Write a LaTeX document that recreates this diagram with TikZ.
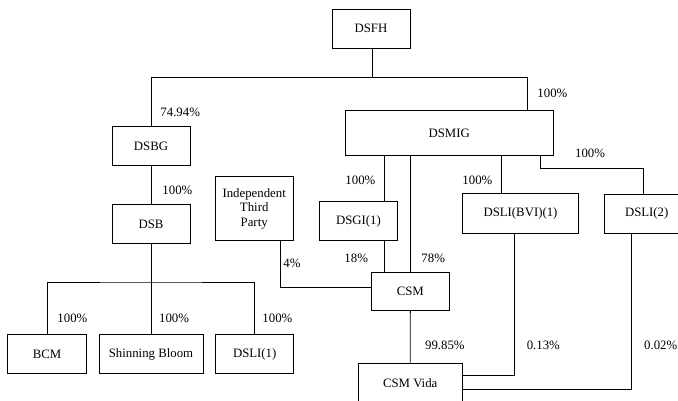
\documentclass[tikz,border=0pt]{standalone}
\usepackage{fontspec}
\setmainfont{Liberation Serif}
\begin{document}
\begin{tikzpicture}[x=1pt,y=-1pt,line width=0.9pt,
  box/.style={draw,inner sep=0pt,align=center,font=\fontsize{12.8}{14.5}\selectfont,minimum height=39pt},
  pct/.style={inner sep=0pt,anchor=west,font=\fontsize{12.8}{14.5}\selectfont}]
\useasboundingbox (0,0) rectangle (678,400);
\clip (0,0) rectangle (678,400);
% boxes
\node[box,minimum width=78pt] (dsfh) at (371,28.5) {DSFH};
\node[box,minimum width=78pt] (dsbg) at (151,146) {DSBG};
\node[box,minimum width=78pt] (dsb) at (151,224) {DSB};
\node[box,minimum width=78pt,minimum height=64pt] (itp) at (254.2,208.5) {Independent\\Third\\Party};
\node[box,minimum width=78.6pt] (bcm) at (47,354) {BCM};
\node[box,minimum width=104pt] (sb) at (151,354) {Shinning Bloom};
\node[box,minimum width=78pt] (dsli1) at (254.7,354) {DSLI(1)};
\node[box,minimum width=207.7pt,minimum height=44.3pt] (dsmig) at (449.2,133) {DSMIG};
\node[box,minimum width=78.4pt] (dsgi) at (358.5,221) {DSGI(1)};
\node[box,minimum width=116.4pt,minimum height=39.8pt] (bvi) at (520.5,213.5) {DSLI(BVI)(1)};
\node[box,minimum width=84.5pt] (dsli2) at (646.7,213.5) {DSLI(2)};
\node[box,minimum width=78pt,minimum height=38.7pt] (csm) at (410.3,291.3) {CSM};
\node[box,minimum width=104.5pt,minimum height=39.7pt] (vida) at (410.2,382.8) {CSM Vida};
% junction coordinates
\coordinate (topbar) at (372,77.3);
\coordinate (dsbbar) at (151,282);
% connectors
\draw (dsfh.south -| topbar) -- (topbar);
\draw (dsbg.north) |- (topbar) -| (dsmig.north -| 527.3,0);
\draw (dsbg.south) -- (dsb.north);
\draw (dsb.south) -- (dsbbar);
\draw (bcm.north) |- (dsbbar) -| (dsli1.north);
\draw (sb.north) -- (dsbbar);
\draw (itp.south -| 280,0) |- (csm.west |- 0,287.5);
\draw (dsmig.south -| 384.3,0) -- (dsgi.north -| 384.3,0);
\draw (dsgi.south -| 384.3,0) -- (csm.north -| 384.3,0);
\draw (dsmig.south -| csm.north) -- (csm.north);
\draw (dsmig.south -| 501.3,0) -- (bvi.north -| 501.3,0);
\draw (dsmig.south -| 540,0) |- (643.5,168.3) -- (dsli2.north -| 643.5,0);
\draw (csm.south) -- (vida.north);
\draw (bvi.south -| 514,0) |- (vida.east |- 0,375.7);
\draw (dsli2.south -| 631,0) |- (vida.east |- 0,389);
% labels
\node[pct] (p1) at (537,93) {100\%};
\node[pct] (p2) at (160,112) {74.94\%};
\node[pct] (p3) at (162,190) {100\%};
\node[pct] (p4) at (57,318.7) {100\%};
\node[pct] (p5) at (158.7,318.7) {100\%};
\node[pct] (p6) at (262,318.7) {100\%};
\node[pct] (p7) at (283,263) {4\%};
\node[pct] (p8) at (345,180) {100\%};
\node[pct] (p9) at (462,180) {100\%};
\node[pct] (p10) at (574.7,153.3) {100\%};
\node[pct] (p11) at (344,258) {18\%};
\node[pct] (p12) at (421,258) {78\%};
\node[pct] (p13) at (424.7,345.7) {99.85\%};
\node[pct] (p14) at (526.3,345.7) {0.13\%};
\node[pct] (p15) at (643.7,345.7) {0.02\%};
\end{tikzpicture}
\end{document}
